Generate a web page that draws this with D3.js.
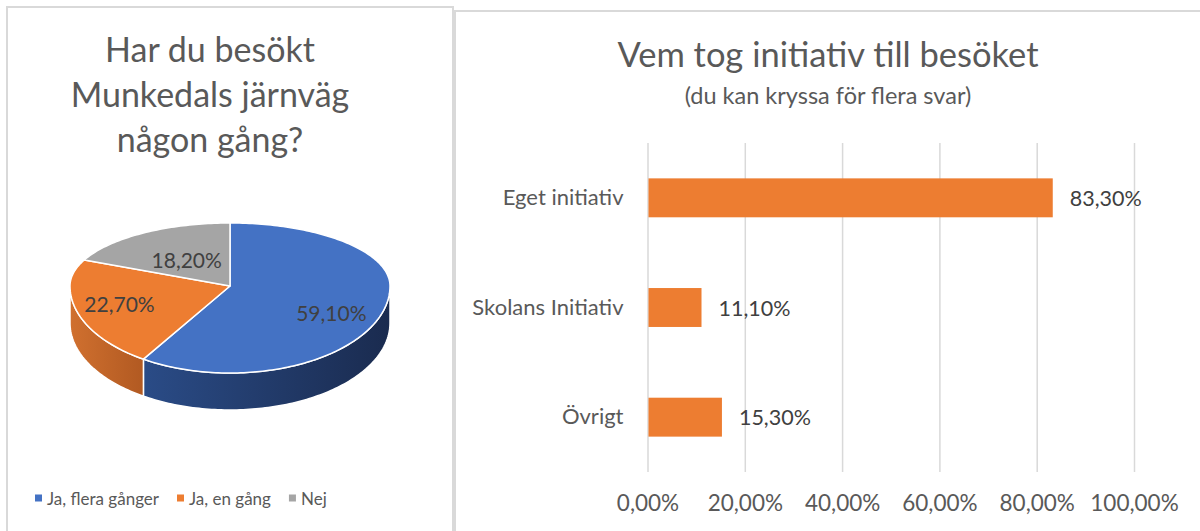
<!DOCTYPE html>
<html>
<head>
<meta charset="utf-8">
<script src="https://cdn.jsdelivr.net/npm/d3@7"></script>
<style>
  html, body { margin: 0; padding: 0; background: #fff; }
  svg { display: block; font-family: "Lato", "Liberation Sans", sans-serif; }
</style>
</head>
<body>
<svg id="chart" width="1200" height="531"></svg>
<script>
// pie data
const pieLabels = ["Ja, flera gånger", "Ja, en gång", "Nej"];
const pieValues = [59.1, 22.7, 18.2];
const pieColors = ["#4472C4", "#ED7D31", "#A5A5A5"];

// bar data
const barCategories = ["Eget initiativ", "Skolans Initiativ", "Övrigt"];
const barValues = [0.833, 0.111, 0.153];
const barTicks = [0, 0.2, 0.4, 0.6, 0.8, 1.0];

const pieTitle = ["Har du besökt", "Munkedals järnväg", "någon gång?"];
const barTitle = "Vem tog initiativ till besöket";
const barSubtitle = "(du kan kryssa för flera svar)";

const sv = d3.formatLocale({decimal: ",", thousands: " ", grouping: [3], currency: ["", " kr"]});
const pct = sv.format(".2%");

const svg = d3.select("#chart");

// panels
svg.append("rect").attr("x", 7).attr("y", 7).attr("width", 446).attr("height", 540)
    .attr("fill", "#fff").attr("stroke", "#d9d9d9").attr("stroke-width", 2);
svg.append("rect").attr("x", 455).attr("y", 11).attr("width", 760).attr("height", 540)
    .attr("fill", "#fff").attr("stroke", "#d9d9d9").attr("stroke-width", 2);

// ---------- left: 3D pie ----------
svg.append("text")
    .attr("text-anchor", "middle")
    .attr("fill", "#595959")
    .style("font-size", "34px")
    .selectAll("tspan").data(pieTitle).join("tspan")
    .attr("x", 210)
    .attr("y", (d, i) => 62 + i * 45)
    .text(d => d);

const cx = 230, cy = 286, rx = 160, ryT = 63, ryB = 87, depth = 37;
// simple perspective: top half of the ellipse is flatter than the bottom half
function proj(a, dy = 0) {
    const c = Math.cos(a);
    return [cx + rx * Math.sin(a), cy - (c > 0 ? ryT : ryB) * c + dy];
}
function arcPoints(a0, a1, dy = 0) {
    const n = Math.max(2, Math.ceil((a1 - a0) / 0.02));
    return d3.range(n + 1).map(i => proj(a0 + (a1 - a0) * i / n, dy));
}

const defs = svg.append("defs");
const sideGrads = [["#2f5597", "#1a2b4f"], ["#d0702f", "#b25a22"], ["#8a8a8a", "#6e6e6e"]];
sideGrads.forEach((g, i) => {
    const lg = defs.append("linearGradient").attr("id", "side" + i)
        .attr("gradientUnits", "userSpaceOnUse")
        .attr("x1", cx - rx).attr("x2", cx + rx).attr("y1", 0).attr("y2", 0);
    if (i === 1) lg.attr("x1", cx - rx).attr("x2", cx - rx * 0.55);
    lg.append("stop").attr("offset", 0).attr("stop-color", g[0]);
    lg.append("stop").attr("offset", 1).attr("stop-color", g[1]);
});

const arcs = d3.pie().sort(null).startAngle(0).endAngle(2 * Math.PI)(pieValues);
const line = d3.line();
const pieG = svg.append("g");

// front walls
arcs.forEach((d, i) => {
    const a0 = Math.max(d.startAngle, Math.PI / 2);
    const a1 = Math.min(d.endAngle, 3 * Math.PI / 2);
    if (a1 <= a0) return;
    const pts = arcPoints(a0, a1).concat(arcPoints(a0, a1, depth).reverse());
    pieG.append("path")
        .attr("d", line(pts) + "Z")
        .attr("fill", `url(#side${i})`)
        .attr("stroke", "#fff").attr("stroke-width", 1.5).attr("stroke-linejoin", "round");
});

// top faces
arcs.forEach((d, i) => {
    const pts = [[cx, cy]].concat(arcPoints(d.startAngle, d.endAngle));
    pieG.append("path")
        .attr("d", line(pts) + "Z")
        .attr("fill", pieColors[i])
        .attr("stroke", "#fff").attr("stroke-width", 1.5).attr("stroke-linejoin", "round");
});

// slice labels
pieG.selectAll("text.slice").data(arcs).join("text")
    .attr("class", "slice")
    .attr("transform", d => {
        const a = (d.startAngle + d.endAngle) / 2;
        const f = d.value > 50 ? 0.66 : d.value > 20 ? 0.72 : 0.5;
        const c = Math.cos(a), s = Math.sin(a);
        const x = cx + rx * f * s;
        const y = cy - (c > 0 ? ryT : ryB) * f * c + (s > 0 ? 10 : 0);
        return `translate(${x},${y})`;
    })
    .attr("text-anchor", "middle")
    .attr("dominant-baseline", "central")
    .attr("fill", "#404040")
    .style("font-size", "21px")
    .text(d => pct(d.value / 100));

// legend
const legend = svg.append("g").attr("transform", "translate(35,498)");
let lx = 0;
pieLabels.forEach((name, i) => {
    const item = legend.append("g").attr("transform", `translate(${lx},0)`);
    item.append("rect").attr("x", 0).attr("y", -3.5).attr("width", 7).attr("height", 7).attr("fill", pieColors[i]);
    const t = item.append("text").attr("x", 12).attr("dominant-baseline", "central")
        .attr("fill", "#595959").style("font-size", "17px").text(name);
    lx += 12 + t.node().getComputedTextLength() + 18;
});

// ---------- right: bar chart ----------
svg.append("text").attr("x", 828).attr("y", 67).attr("text-anchor", "middle")
    .attr("fill", "#595959").style("font-size", "34.5px").text(barTitle);
svg.append("text").attr("x", 828).attr("y", 104).attr("text-anchor", "middle")
    .attr("fill", "#595959").style("font-size", "23.5px").text(barSubtitle);

const x0 = 647.5, x1 = 1134, yTop = 143, yBot = 472;
const xScale = d3.scaleLinear().domain([0, 1]).range([x0, x1]);
const yScale = d3.scaleBand().domain(barCategories).range([yTop, yBot])
    .paddingInner(0.645).paddingOuter(0.3225);

const xAxis = svg.append("g").attr("transform", `translate(0,${yBot})`)
    .call(d3.axisBottom(xScale).tickValues(barTicks).tickFormat(pct)
        .tickSize(-(yBot - yTop)).tickPadding(23));
xAxis.select(".domain").remove();
xAxis.selectAll(".tick line").attr("stroke", "#d9d9d9").attr("stroke-width", 1.5);
xAxis.selectAll(".tick text").attr("fill", "#595959").style("font-size", "22.5px")
    .style("font-family", "Lato, sans-serif");

const yAxis = svg.append("g").attr("transform", `translate(${x0},0)`)
    .call(d3.axisLeft(yScale).tickSize(0).tickPadding(24));
yAxis.select(".domain").remove();
yAxis.selectAll(".tick text").attr("fill", "#595959").style("font-size", "22px")
    .style("font-family", "Lato, sans-serif");

svg.append("g").selectAll("rect").data(barValues).join("rect")
    .attr("x", xScale(0) + 1)
    .attr("y", (d, i) => yScale(barCategories[i]))
    .attr("width", d => xScale(d) - xScale(0) - 1)
    .attr("height", yScale.bandwidth())
    .attr("fill", "#ED7D31");

svg.append("g").selectAll("text").data(barValues).join("text")
    .attr("x", d => xScale(d) + 17)
    .attr("y", (d, i) => yScale(barCategories[i]) + yScale.bandwidth() / 2)
    .attr("dominant-baseline", "central")
    .attr("fill", "#404040")
    .style("font-size", "21.5px")
    .text(d => pct(d));
</script>
</body>
</html>
